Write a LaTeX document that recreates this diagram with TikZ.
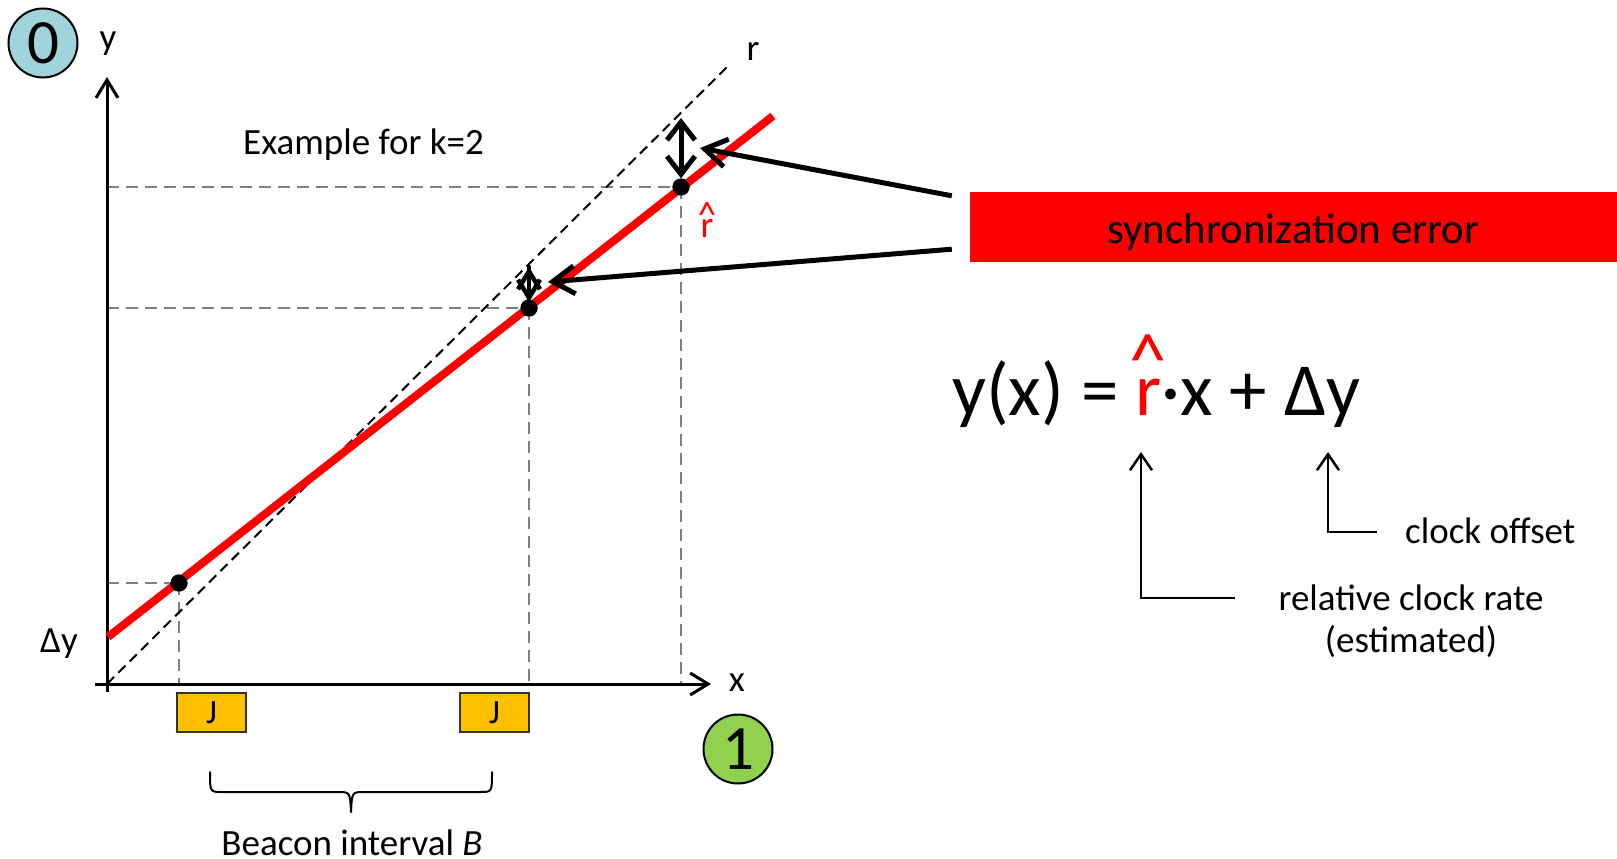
\documentclass[tikz,border=0pt]{standalone}
\usepackage{fontspec}
\setmainfont{Carlito}
\usetikzlibrary{arrows.meta}
\newcommand\fsz[1]{\fontsize{#1}{#1}\selectfont}
\newcommand\hatr[1]{\ooalign{r\cr\hidewidth\raisebox{#1}{\textasciicircum}\hidewidth\cr}}
\definecolor{tealzero}{RGB}{160,212,218}
\definecolor{greenone}{RGB}{146,208,80}
\definecolor{jorange}{RGB}{255,192,0}
\definecolor{dgray}{RGB}{128,128,128}
\begin{document}
\begin{tikzpicture}[x=1pt,y=-1pt,
  lab/.style={font=\fsz{37}, inner sep=0pt, anchor=base},
  axisline/.style={line width=3pt, -{Straight Barb[length=18pt,width=22pt,line width=3pt]}},
  gdash/.style={draw=dgray, line width=2pt, dash pattern=on 12pt off 7pt},
  rdash/.style={draw=black, line width=2pt, dash pattern=on 10pt off 6pt},
  estline/.style={draw=red, line width=8pt},
  dot/.style={circle, fill=black, minimum size=17pt, inner sep=0pt},
  dbl/.style={line width=5pt, line cap=round, {Straight Barb[length=18pt,width=28pt,line width=5pt]}-{Straight Barb[length=18pt,width=28pt,line width=5pt]}},
  sgl/.style={line width=4.5pt, line cap=round, -{Straight Barb[length=18pt,width=22pt,line width=4.5pt]}},
  pointer/.style={line width=5pt, -{Straight Barb[length=22pt,width=28pt,line width=5pt]}},
  thinarrow/.style={line width=2.5pt, -{Straight Barb[length=16pt,width=22pt,line width=2.5pt]}},
  jbox/.style={draw=black!80, line width=2pt, fill=jorange, minimum width=69pt, minimum height=39pt, inner sep=0pt, font=\fsz{34}},
  numcirc/.style={circle, draw=black, line width=2pt, minimum size=69pt, inner sep=0pt, font=\fsz{63}}
]
\useasboundingbox (0,0) rectangle (1617,859);

% coordinates
\coordinate (O) at (107,684);
\coordinate (ybot) at (107,692);
\coordinate (ytop) at (107,77);
\coordinate (xleft) at (95,684);
\coordinate (xright) at (711,684);
\coordinate (rstart) at (107,684);
\coordinate (rend) at (727,67);
\coordinate (estart) at (108,637);
\coordinate (eend) at (773,116);
\coordinate (q2) at (529,267);
\coordinate (q2b) at (529,302);
\coordinate (m2a) at (529,302);
\coordinate (m2b) at (529,267);
\coordinate (q3) at (681,118);
\coordinate (t2) at (548,282);
\coordinate (t3) at (700,148);

% points
\node[dot] (p1) at (179,583) {};
\node[dot] (p2) at (529,308) {};
\node[dot] (p3) at (681,187) {};

% gray dashed helper lines
\draw[gdash] (p1 -| O) -- (p1.center);
\draw[gdash] (p2 -| O) -- (p2.center);
\draw[gdash] (p3 -| O) -- (p3.center);
\draw[gdash] (p1.center) -- (p1 |- O);
\draw[gdash] (p2.center) -- (p2 |- O);
\draw[gdash] (p3.center) -- (p3 |- O);

% axes
\draw[axisline] (ybot) -- (ytop);
\draw[axisline] (xleft) -- (xright);

% reference line r and estimated line
\draw[rdash] (rstart) -- (rend);
\draw[estline] (estart) -- (eend);

% redraw dots on top
\node[dot] at (p1) {};
\node[dot] at (p2) {};
\node[dot] at (p3) {};

% labels
\node[numcirc, fill=tealzero] (c0) at (43,43) {0};
\node[numcirc, fill=greenone] (c1) at (738,749) {1};
\node[lab] (ylab) at (108,50) {y};
\node[lab] (xlab) at (737,691) {x};
\node[lab] (rlab) at (753,60) {r};
\node[lab, anchor=base west] (dylab) at (40,652) {Δy};
\node[lab, anchor=base west] (ex) at (243,154) {Example for k=2};
\node[lab, text=red] (rhatlab) at (707,237) {\hatr{0.25em}};

% sync error box
\node[fill=red, minimum width=647pt, minimum height=70pt, inner sep=0pt] (box) at (1293.5,227) {};
\node[font=\fsz{43}, inner sep=0pt, yshift=-5pt] (boxtext) at (box.center) {synchronization error};

% double arrows
\draw[dbl] (p3.north) -- (q3);
\draw[sgl] (m2a) -- (q2);
\draw[sgl] (m2b) -- (q2b);

% pointers
\draw[pointer] ([xshift=-18pt,yshift=-4pt]box.north west) -- (t3);
\draw[pointer] ([xshift=-18pt,yshift=13pt]box.south west) -- (t2);

% J boxes
\node[jbox] (j1) at (211.5,712.5) {J};
\node[jbox] (j2) at (494.5,712.5) {J};

% brace
\draw[line width=2pt, line cap=round, line join=round]
  (210,772) .. controls (210,792) .. (222,792) -- (338,792)
  .. controls (350,792) .. (351,812)
  .. controls (352,792) .. (364,792) -- (480,792)
  .. controls (492,792) .. (492,772);
\node[lab] (beacon) at (352,855) {Beacon interval \textit{B}};

% equation
\node[font=\fsz{75}, inner sep=0pt, anchor=base west] (eq) at (952,415)
  {y(x) = {\color{red}\hatr{0.4em}}·x + Δy};
\coordinate (a1tip) at (1141,452);
\coordinate (a1end) at (1235,598);
\coordinate (a2tip) at (1328,452);
\coordinate (a2end) at (1377,532);
\draw[thinarrow] (a1end) -| (a1tip);
\draw[thinarrow] (a2end) -| (a2tip);
\node[lab, anchor=base west] (off) at (1405,543) {clock offset};
\node[lab, align=center, anchor=base] (rate) at (1411,610) {relative clock rate};
\node[lab] (est) at (1411,652) {(estimated)};
\end{tikzpicture}
\end{document}
